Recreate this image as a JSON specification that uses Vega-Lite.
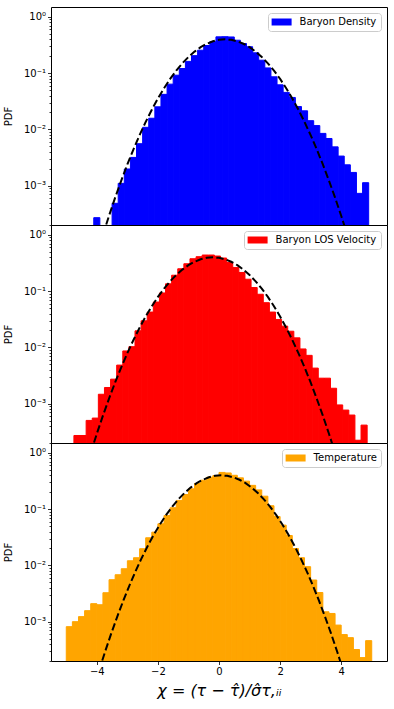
{
"$schema": "https://vega.github.io/schema/vega-lite/v6.json",
"padding": {"left": 2, "top": 6, "right": 5, "bottom": 8},
"spacing": 0,
"bounds": "flush",
"datasets": {
"bars": [
{"s":"Baryon Density","x0":-4.1,"x1":-3.9,"pdf":0.00027},
{"s":"Baryon Density","x0":-3.5,"x1":-3.3,"pdf":0.000486},
{"s":"Baryon Density","x0":-3.3,"x1":-3.1,"pdf":0.0011},
{"s":"Baryon Density","x0":-3.1,"x1":-2.9,"pdf":0.00198},
{"s":"Baryon Density","x0":-2.9,"x1":-2.7,"pdf":0.00318},
{"s":"Baryon Density","x0":-2.7,"x1":-2.5,"pdf":0.00557},
{"s":"Baryon Density","x0":-2.5,"x1":-2.3,"pdf":0.0109},
{"s":"Baryon Density","x0":-2.3,"x1":-2.1,"pdf":0.0158},
{"s":"Baryon Density","x0":-2.1,"x1":-1.9,"pdf":0.0252},
{"s":"Baryon Density","x0":-1.9,"x1":-1.7,"pdf":0.042},
{"s":"Baryon Density","x0":-1.7,"x1":-1.5,"pdf":0.0638},
{"s":"Baryon Density","x0":-1.5,"x1":-1.3,"pdf":0.092},
{"s":"Baryon Density","x0":-1.3,"x1":-1.1,"pdf":0.121},
{"s":"Baryon Density","x0":-1.1,"x1":-0.9,"pdf":0.162},
{"s":"Baryon Density","x0":-0.9,"x1":-0.7,"pdf":0.205},
{"s":"Baryon Density","x0":-0.7,"x1":-0.5,"pdf":0.256},
{"s":"Baryon Density","x0":-0.5,"x1":-0.3,"pdf":0.31},
{"s":"Baryon Density","x0":-0.3,"x1":-0.1,"pdf":0.362},
{"s":"Baryon Density","x0":-0.1,"x1":0.1,"pdf":0.442},
{"s":"Baryon Density","x0":0.1,"x1":0.3,"pdf":0.445},
{"s":"Baryon Density","x0":0.3,"x1":0.5,"pdf":0.44},
{"s":"Baryon Density","x0":0.5,"x1":0.7,"pdf":0.385},
{"s":"Baryon Density","x0":0.7,"x1":0.9,"pdf":0.336},
{"s":"Baryon Density","x0":0.9,"x1":1.1,"pdf":0.295},
{"s":"Baryon Density","x0":1.1,"x1":1.3,"pdf":0.23},
{"s":"Baryon Density","x0":1.3,"x1":1.5,"pdf":0.17},
{"s":"Baryon Density","x0":1.5,"x1":1.7,"pdf":0.124},
{"s":"Baryon Density","x0":1.7,"x1":1.9,"pdf":0.0861},
{"s":"Baryon Density","x0":1.9,"x1":2.1,"pdf":0.062},
{"s":"Baryon Density","x0":2.1,"x1":2.3,"pdf":0.0455},
{"s":"Baryon Density","x0":2.3,"x1":2.5,"pdf":0.037},
{"s":"Baryon Density","x0":2.5,"x1":2.7,"pdf":0.0255},
{"s":"Baryon Density","x0":2.7,"x1":2.9,"pdf":0.0214},
{"s":"Baryon Density","x0":2.9,"x1":3.1,"pdf":0.0143},
{"s":"Baryon Density","x0":3.1,"x1":3.3,"pdf":0.0117},
{"s":"Baryon Density","x0":3.3,"x1":3.5,"pdf":0.0085},
{"s":"Baryon Density","x0":3.5,"x1":3.7,"pdf":0.0069},
{"s":"Baryon Density","x0":3.7,"x1":3.9,"pdf":0.0049},
{"s":"Baryon Density","x0":3.9,"x1":4.1,"pdf":0.00336},
{"s":"Baryon Density","x0":4.1,"x1":4.3,"pdf":0.00235},
{"s":"Baryon Density","x0":4.3,"x1":4.5,"pdf":0.00172},
{"s":"Baryon Density","x0":4.5,"x1":4.7,"pdf":0.00073},
{"s":"Baryon Density","x0":4.7,"x1":4.9,"pdf":0.00113},
{"s":"Baryon LOS Velocity","x0":-4.75,"x1":-4.55,"pdf":0.000272},
{"s":"Baryon LOS Velocity","x0":-4.55,"x1":-4.35,"pdf":0.000272},
{"s":"Baryon LOS Velocity","x0":-4.35,"x1":-4.15,"pdf":0.000504},
{"s":"Baryon LOS Velocity","x0":-4.15,"x1":-3.95,"pdf":0.000555},
{"s":"Baryon LOS Velocity","x0":-3.95,"x1":-3.75,"pdf":0.00147},
{"s":"Baryon LOS Velocity","x0":-3.75,"x1":-3.55,"pdf":0.00194},
{"s":"Baryon LOS Velocity","x0":-3.55,"x1":-3.35,"pdf":0.00273},
{"s":"Baryon LOS Velocity","x0":-3.35,"x1":-3.15,"pdf":0.00485},
{"s":"Baryon LOS Velocity","x0":-3.15,"x1":-2.95,"pdf":0.00865},
{"s":"Baryon LOS Velocity","x0":-2.95,"x1":-2.75,"pdf":0.0103},
{"s":"Baryon LOS Velocity","x0":-2.75,"x1":-2.55,"pdf":0.0197},
{"s":"Baryon LOS Velocity","x0":-2.55,"x1":-2.35,"pdf":0.0297},
{"s":"Baryon LOS Velocity","x0":-2.35,"x1":-2.15,"pdf":0.0425},
{"s":"Baryon LOS Velocity","x0":-2.15,"x1":-1.95,"pdf":0.0641},
{"s":"Baryon LOS Velocity","x0":-1.95,"x1":-1.75,"pdf":0.0929},
{"s":"Baryon LOS Velocity","x0":-1.75,"x1":-1.55,"pdf":0.135},
{"s":"Baryon LOS Velocity","x0":-1.55,"x1":-1.35,"pdf":0.192},
{"s":"Baryon LOS Velocity","x0":-1.35,"x1":-1.15,"pdf":0.25},
{"s":"Baryon LOS Velocity","x0":-1.15,"x1":-0.95,"pdf":0.307},
{"s":"Baryon LOS Velocity","x0":-0.95,"x1":-0.75,"pdf":0.377},
{"s":"Baryon LOS Velocity","x0":-0.75,"x1":-0.55,"pdf":0.41},
{"s":"Baryon LOS Velocity","x0":-0.55,"x1":-0.35,"pdf":0.439},
{"s":"Baryon LOS Velocity","x0":-0.35,"x1":-0.15,"pdf":0.439},
{"s":"Baryon LOS Velocity","x0":-0.15,"x1":0.05,"pdf":0.421},
{"s":"Baryon LOS Velocity","x0":0.05,"x1":0.25,"pdf":0.388},
{"s":"Baryon LOS Velocity","x0":0.25,"x1":0.45,"pdf":0.324},
{"s":"Baryon LOS Velocity","x0":0.45,"x1":0.65,"pdf":0.264},
{"s":"Baryon LOS Velocity","x0":0.65,"x1":0.85,"pdf":0.215},
{"s":"Baryon LOS Velocity","x0":0.85,"x1":1.05,"pdf":0.163},
{"s":"Baryon LOS Velocity","x0":1.05,"x1":1.25,"pdf":0.116},
{"s":"Baryon LOS Velocity","x0":1.25,"x1":1.45,"pdf":0.0881},
{"s":"Baryon LOS Velocity","x0":1.45,"x1":1.65,"pdf":0.0624},
{"s":"Baryon LOS Velocity","x0":1.65,"x1":1.85,"pdf":0.0425},
{"s":"Baryon LOS Velocity","x0":1.85,"x1":2.05,"pdf":0.0314},
{"s":"Baryon LOS Velocity","x0":2.05,"x1":2.25,"pdf":0.0239},
{"s":"Baryon LOS Velocity","x0":2.25,"x1":2.45,"pdf":0.0194},
{"s":"Baryon LOS Velocity","x0":2.45,"x1":2.65,"pdf":0.0148},
{"s":"Baryon LOS Velocity","x0":2.65,"x1":2.85,"pdf":0.00939},
{"s":"Baryon LOS Velocity","x0":2.85,"x1":3.05,"pdf":0.00723},
{"s":"Baryon LOS Velocity","x0":3.05,"x1":3.25,"pdf":0.00429},
{"s":"Baryon LOS Velocity","x0":3.25,"x1":3.45,"pdf":0.00284},
{"s":"Baryon LOS Velocity","x0":3.45,"x1":3.65,"pdf":0.00284},
{"s":"Baryon LOS Velocity","x0":3.65,"x1":3.85,"pdf":0.00188},
{"s":"Baryon LOS Velocity","x0":3.85,"x1":4.05,"pdf":0.00095},
{"s":"Baryon LOS Velocity","x0":4.05,"x1":4.25,"pdf":0.00077},
{"s":"Baryon LOS Velocity","x0":4.25,"x1":4.45,"pdf":0.000628},
{"s":"Baryon LOS Velocity","x0":4.45,"x1":4.65,"pdf":0.000224},
{"s":"Baryon LOS Velocity","x0":4.65,"x1":4.85,"pdf":0.000416},
{"s":"Temperature","x0":-5.0,"x1":-4.8,"pdf":0.000815},
{"s":"Temperature","x0":-4.8,"x1":-4.6,"pdf":0.001},
{"s":"Temperature","x0":-4.6,"x1":-4.4,"pdf":0.00123},
{"s":"Temperature","x0":-4.4,"x1":-4.2,"pdf":0.00157},
{"s":"Temperature","x0":-4.2,"x1":-4.0,"pdf":0.00209},
{"s":"Temperature","x0":-4.0,"x1":-3.8,"pdf":0.002},
{"s":"Temperature","x0":-3.8,"x1":-3.6,"pdf":0.00327},
{"s":"Temperature","x0":-3.6,"x1":-3.4,"pdf":0.00557},
{"s":"Temperature","x0":-3.4,"x1":-3.2,"pdf":0.00683},
{"s":"Temperature","x0":-3.2,"x1":-3.0,"pdf":0.00873},
{"s":"Temperature","x0":-3.0,"x1":-2.8,"pdf":0.0121},
{"s":"Temperature","x0":-2.8,"x1":-2.6,"pdf":0.0137},
{"s":"Temperature","x0":-2.6,"x1":-2.4,"pdf":0.0198},
{"s":"Temperature","x0":-2.4,"x1":-2.2,"pdf":0.031},
{"s":"Temperature","x0":-2.2,"x1":-2.0,"pdf":0.039},
{"s":"Temperature","x0":-2.0,"x1":-1.8,"pdf":0.055},
{"s":"Temperature","x0":-1.8,"x1":-1.6,"pdf":0.077},
{"s":"Temperature","x0":-1.6,"x1":-1.4,"pdf":0.106},
{"s":"Temperature","x0":-1.4,"x1":-1.2,"pdf":0.143},
{"s":"Temperature","x0":-1.2,"x1":-1.0,"pdf":0.182},
{"s":"Temperature","x0":-1.0,"x1":-0.8,"pdf":0.23},
{"s":"Temperature","x0":-0.8,"x1":-0.6,"pdf":0.286},
{"s":"Temperature","x0":-0.6,"x1":-0.4,"pdf":0.327},
{"s":"Temperature","x0":-0.4,"x1":-0.2,"pdf":0.37},
{"s":"Temperature","x0":-0.2,"x1":0.0,"pdf":0.396},
{"s":"Temperature","x0":0.0,"x1":0.2,"pdf":0.45},
{"s":"Temperature","x0":0.2,"x1":0.4,"pdf":0.44},
{"s":"Temperature","x0":0.4,"x1":0.6,"pdf":0.4},
{"s":"Temperature","x0":0.6,"x1":0.8,"pdf":0.36},
{"s":"Temperature","x0":0.8,"x1":1.0,"pdf":0.315},
{"s":"Temperature","x0":1.0,"x1":1.2,"pdf":0.265},
{"s":"Temperature","x0":1.2,"x1":1.4,"pdf":0.22},
{"s":"Temperature","x0":1.4,"x1":1.6,"pdf":0.17},
{"s":"Temperature","x0":1.6,"x1":1.8,"pdf":0.115},
{"s":"Temperature","x0":1.8,"x1":2.0,"pdf":0.074},
{"s":"Temperature","x0":2.0,"x1":2.2,"pdf":0.052},
{"s":"Temperature","x0":2.2,"x1":2.4,"pdf":0.034},
{"s":"Temperature","x0":2.4,"x1":2.6,"pdf":0.02},
{"s":"Temperature","x0":2.6,"x1":2.8,"pdf":0.0137},
{"s":"Temperature","x0":2.8,"x1":3.0,"pdf":0.0095},
{"s":"Temperature","x0":3.0,"x1":3.2,"pdf":0.0055},
{"s":"Temperature","x0":3.2,"x1":3.4,"pdf":0.0033},
{"s":"Temperature","x0":3.4,"x1":3.6,"pdf":0.0015},
{"s":"Temperature","x0":3.6,"x1":3.8,"pdf":0.0014},
{"s":"Temperature","x0":3.8,"x1":4.0,"pdf":0.00087},
{"s":"Temperature","x0":4.0,"x1":4.2,"pdf":0.00059},
{"s":"Temperature","x0":4.2,"x1":4.4,"pdf":0.00052},
{"s":"Temperature","x0":4.4,"x1":4.6,"pdf":0.00032},
{"s":"Temperature","x0":4.6,"x1":4.8,"pdf":0.00023},
{"s":"Temperature","x0":4.8,"x1":5.0,"pdf":0.00046}
],
"curve": [
{"s":"Baryon Density","x":-4.0,"pdf":0.0000589},{"s":"Baryon Density","x":-3.8,"pdf":0.000134},{"s":"Baryon Density","x":-3.6,"pdf":0.000292},{"s":"Baryon Density","x":-3.4,"pdf":0.000612},{"s":"Baryon Density","x":-3.2,"pdf":0.001232},{"s":"Baryon Density","x":-3.0,"pdf":0.002384},{"s":"Baryon Density","x":-2.8,"pdf":0.004432},{"s":"Baryon Density","x":-2.6,"pdf":0.007915},{"s":"Baryon Density","x":-2.4,"pdf":0.01358},{"s":"Baryon Density","x":-2.2,"pdf":0.02239},{"s":"Baryon Density","x":-2.0,"pdf":0.03547},{"s":"Baryon Density","x":-1.8,"pdf":0.05399},{"s":"Baryon Density","x":-1.6,"pdf":0.07895},{"s":"Baryon Density","x":-1.4,"pdf":0.11092},{"s":"Baryon Density","x":-1.2,"pdf":0.14973},{"s":"Baryon Density","x":-1.0,"pdf":0.19419},{"s":"Baryon Density","x":-0.8,"pdf":0.24197},{"s":"Baryon Density","x":-0.6,"pdf":0.28969},{"s":"Baryon Density","x":-0.4,"pdf":0.33322},{"s":"Baryon Density","x":-0.2,"pdf":0.36827},{"s":"Baryon Density","x":0.0,"pdf":0.39104},{"s":"Baryon Density","x":0.2,"pdf":0.39894},{"s":"Baryon Density","x":0.4,"pdf":0.39104},{"s":"Baryon Density","x":0.6,"pdf":0.36827},{"s":"Baryon Density","x":0.8,"pdf":0.33322},{"s":"Baryon Density","x":1.0,"pdf":0.28969},{"s":"Baryon Density","x":1.2,"pdf":0.24197},{"s":"Baryon Density","x":1.4,"pdf":0.19419},{"s":"Baryon Density","x":1.6,"pdf":0.14973},{"s":"Baryon Density","x":1.8,"pdf":0.11092},{"s":"Baryon Density","x":2.0,"pdf":0.07895},{"s":"Baryon Density","x":2.2,"pdf":0.05399},{"s":"Baryon Density","x":2.4,"pdf":0.03547},{"s":"Baryon Density","x":2.6,"pdf":0.02239},{"s":"Baryon Density","x":2.8,"pdf":0.01358},{"s":"Baryon Density","x":3.0,"pdf":0.007915},{"s":"Baryon Density","x":3.2,"pdf":0.004432},{"s":"Baryon Density","x":3.4,"pdf":0.002384},{"s":"Baryon Density","x":3.6,"pdf":0.001232},{"s":"Baryon Density","x":3.8,"pdf":0.000612},{"s":"Baryon Density","x":4.0,"pdf":0.000292},{"s":"Baryon Density","x":4.2,"pdf":0.000134},{"s":"Baryon Density","x":4.4,"pdf":0.0000589},
{"s":"Baryon LOS Velocity","x":-4.4,"pdf":0.0000589},{"s":"Baryon LOS Velocity","x":-4.2,"pdf":0.000134},{"s":"Baryon LOS Velocity","x":-4.0,"pdf":0.000292},{"s":"Baryon LOS Velocity","x":-3.8,"pdf":0.000612},{"s":"Baryon LOS Velocity","x":-3.6,"pdf":0.001232},{"s":"Baryon LOS Velocity","x":-3.4,"pdf":0.002384},{"s":"Baryon LOS Velocity","x":-3.2,"pdf":0.004432},{"s":"Baryon LOS Velocity","x":-3.0,"pdf":0.007915},{"s":"Baryon LOS Velocity","x":-2.8,"pdf":0.01358},{"s":"Baryon LOS Velocity","x":-2.6,"pdf":0.02239},{"s":"Baryon LOS Velocity","x":-2.4,"pdf":0.03547},{"s":"Baryon LOS Velocity","x":-2.2,"pdf":0.05399},{"s":"Baryon LOS Velocity","x":-2.0,"pdf":0.07895},{"s":"Baryon LOS Velocity","x":-1.8,"pdf":0.11092},{"s":"Baryon LOS Velocity","x":-1.6,"pdf":0.14973},{"s":"Baryon LOS Velocity","x":-1.4,"pdf":0.19419},{"s":"Baryon LOS Velocity","x":-1.2,"pdf":0.24197},{"s":"Baryon LOS Velocity","x":-1.0,"pdf":0.28969},{"s":"Baryon LOS Velocity","x":-0.8,"pdf":0.33322},{"s":"Baryon LOS Velocity","x":-0.6,"pdf":0.36827},{"s":"Baryon LOS Velocity","x":-0.4,"pdf":0.39104},{"s":"Baryon LOS Velocity","x":-0.2,"pdf":0.39894},{"s":"Baryon LOS Velocity","x":0.0,"pdf":0.39104},{"s":"Baryon LOS Velocity","x":0.2,"pdf":0.36827},{"s":"Baryon LOS Velocity","x":0.4,"pdf":0.33322},{"s":"Baryon LOS Velocity","x":0.6,"pdf":0.28969},{"s":"Baryon LOS Velocity","x":0.8,"pdf":0.24197},{"s":"Baryon LOS Velocity","x":1.0,"pdf":0.19419},{"s":"Baryon LOS Velocity","x":1.2,"pdf":0.14973},{"s":"Baryon LOS Velocity","x":1.4,"pdf":0.11092},{"s":"Baryon LOS Velocity","x":1.6,"pdf":0.07895},{"s":"Baryon LOS Velocity","x":1.8,"pdf":0.05399},{"s":"Baryon LOS Velocity","x":2.0,"pdf":0.03547},{"s":"Baryon LOS Velocity","x":2.2,"pdf":0.02239},{"s":"Baryon LOS Velocity","x":2.4,"pdf":0.01358},{"s":"Baryon LOS Velocity","x":2.6,"pdf":0.007915},{"s":"Baryon LOS Velocity","x":2.8,"pdf":0.004432},{"s":"Baryon LOS Velocity","x":3.0,"pdf":0.002384},{"s":"Baryon LOS Velocity","x":3.2,"pdf":0.001232},{"s":"Baryon LOS Velocity","x":3.4,"pdf":0.000612},{"s":"Baryon LOS Velocity","x":3.6,"pdf":0.000292},{"s":"Baryon LOS Velocity","x":3.8,"pdf":0.000134},{"s":"Baryon LOS Velocity","x":4.0,"pdf":0.0000589},
{"s":"Temperature","x":-4.13,"pdf":0.0000589},{"s":"Temperature","x":-3.93,"pdf":0.000134},{"s":"Temperature","x":-3.73,"pdf":0.000292},{"s":"Temperature","x":-3.53,"pdf":0.000612},{"s":"Temperature","x":-3.33,"pdf":0.001232},{"s":"Temperature","x":-3.13,"pdf":0.002384},{"s":"Temperature","x":-2.93,"pdf":0.004432},{"s":"Temperature","x":-2.73,"pdf":0.007915},{"s":"Temperature","x":-2.53,"pdf":0.01358},{"s":"Temperature","x":-2.33,"pdf":0.02239},{"s":"Temperature","x":-2.13,"pdf":0.03547},{"s":"Temperature","x":-1.93,"pdf":0.05399},{"s":"Temperature","x":-1.73,"pdf":0.07895},{"s":"Temperature","x":-1.53,"pdf":0.11092},{"s":"Temperature","x":-1.33,"pdf":0.14973},{"s":"Temperature","x":-1.13,"pdf":0.19419},{"s":"Temperature","x":-0.93,"pdf":0.24197},{"s":"Temperature","x":-0.73,"pdf":0.28969},{"s":"Temperature","x":-0.53,"pdf":0.33322},{"s":"Temperature","x":-0.33,"pdf":0.36827},{"s":"Temperature","x":-0.13,"pdf":0.39104},{"s":"Temperature","x":0.07,"pdf":0.39894},{"s":"Temperature","x":0.27,"pdf":0.39104},{"s":"Temperature","x":0.47,"pdf":0.36827},{"s":"Temperature","x":0.67,"pdf":0.33322},{"s":"Temperature","x":0.87,"pdf":0.28969},{"s":"Temperature","x":1.07,"pdf":0.24197},{"s":"Temperature","x":1.27,"pdf":0.19419},{"s":"Temperature","x":1.47,"pdf":0.14973},{"s":"Temperature","x":1.67,"pdf":0.11092},{"s":"Temperature","x":1.87,"pdf":0.07895},{"s":"Temperature","x":2.07,"pdf":0.05399},{"s":"Temperature","x":2.27,"pdf":0.03547},{"s":"Temperature","x":2.47,"pdf":0.02239},{"s":"Temperature","x":2.67,"pdf":0.01358},{"s":"Temperature","x":2.87,"pdf":0.007915},{"s":"Temperature","x":3.07,"pdf":0.004432},{"s":"Temperature","x":3.27,"pdf":0.002384},{"s":"Temperature","x":3.47,"pdf":0.001232},{"s":"Temperature","x":3.67,"pdf":0.000612},{"s":"Temperature","x":3.87,"pdf":0.000292},{"s":"Temperature","x":4.07,"pdf":0.000134},{"s":"Temperature","x":4.27,"pdf":0.0000589}
]
},
"vconcat": [
{
"width": 336, "height": 218,
"layer": [
{"data": {"name": "bars"}, "transform": [{"filter": "datum.s == 'Baryon Density'"}],
 "mark": {"type": "rect", "clip": true, "stroke": "#0000ff", "strokeWidth": 1},
 "encoding": {
  "x": {"field": "x0", "type": "quantitative", "scale": {"domain": [-5.5, 5.5], "nice": false, "zero": false}, "axis": null},
  "x2": {"field": "x1"},
  "y": {"field": "pdf", "type": "quantitative", "scale": {"type": "log", "domain": [0.0002, 1.5], "nice": false}, "axis": {"values": [1, 0.1, 0.01, 0.001], "labelExpr": "datum.value > 0.5 ? '10⁰' : datum.value > 0.05 ? '10⁻¹' : datum.value > 0.005 ? '10⁻²' : '10⁻³'", "title": "PDF", "tickSize": 3.5, "labelPadding": 2, "titlePadding": 10, "orient": "left"}},
  "y2": {"datum": 0.0001},
  "color": {"field": "s", "type": "nominal", "scale": {"range": ["#0000ff"]}, "legend": {"title": null, "orient": "top-right", "offset": 6}}
 }},
{"data": {"name": "curve"}, "transform": [{"filter": "datum.s == 'Baryon Density'"}],
 "mark": {"type": "line", "clip": true, "color": "#000000", "strokeWidth": 2, "strokeDash": [7.4, 3.2]},
 "encoding": {
  "x": {"field": "x", "type": "quantitative"},
  "y": {"field": "pdf", "type": "quantitative", "axis": {"values": [0.0002,0.0003,0.0004,0.0005,0.0006,0.0007,0.0008,0.0009,0.002,0.003,0.004,0.005,0.006,0.007,0.008,0.009,0.02,0.03,0.04,0.05,0.06,0.07,0.08,0.09,0.2,0.3,0.4,0.5,0.6,0.7,0.8,0.9], "labels": false, "title": null, "tickSize": 2, "orient": "left"}}
 }}
],
"resolve": {"axis": {"y": "independent"}}
},
{
"width": 336, "height": 218,
"layer": [
{"data": {"name": "bars"}, "transform": [{"filter": "datum.s == 'Baryon LOS Velocity'"}],
 "mark": {"type": "rect", "clip": true, "stroke": "#ff0000", "strokeWidth": 1},
 "encoding": {
  "x": {"field": "x0", "type": "quantitative", "scale": {"domain": [-5.5, 5.5], "nice": false, "zero": false}, "axis": null},
  "x2": {"field": "x1"},
  "y": {"field": "pdf", "type": "quantitative", "scale": {"type": "log", "domain": [0.0002, 1.5], "nice": false}, "axis": {"values": [1, 0.1, 0.01, 0.001], "labelExpr": "datum.value > 0.5 ? '10⁰' : datum.value > 0.05 ? '10⁻¹' : datum.value > 0.005 ? '10⁻²' : '10⁻³'", "title": "PDF", "tickSize": 3.5, "labelPadding": 2, "titlePadding": 10, "orient": "left"}},
  "y2": {"datum": 0.0001},
  "color": {"field": "s", "type": "nominal", "scale": {"range": ["#ff0000"]}, "legend": {"title": null, "orient": "top-right", "offset": 6}}
 }},
{"data": {"name": "curve"}, "transform": [{"filter": "datum.s == 'Baryon LOS Velocity'"}],
 "mark": {"type": "line", "clip": true, "color": "#000000", "strokeWidth": 2, "strokeDash": [7.4, 3.2]},
 "encoding": {
  "x": {"field": "x", "type": "quantitative"},
  "y": {"field": "pdf", "type": "quantitative", "axis": {"values": [0.0002,0.0003,0.0004,0.0005,0.0006,0.0007,0.0008,0.0009,0.002,0.003,0.004,0.005,0.006,0.007,0.008,0.009,0.02,0.03,0.04,0.05,0.06,0.07,0.08,0.09,0.2,0.3,0.4,0.5,0.6,0.7,0.8,0.9], "labels": false, "title": null, "tickSize": 2, "orient": "left"}}
 }}
],
"resolve": {"axis": {"y": "independent"}}
},
{
"width": 336, "height": 218,
"layer": [
{"data": {"name": "bars"}, "transform": [{"filter": "datum.s == 'Temperature'"}],
 "mark": {"type": "rect", "clip": true, "stroke": "#ffa500", "strokeWidth": 1},
 "encoding": {
  "x": {"field": "x0", "type": "quantitative", "scale": {"domain": [-5.5, 5.5], "nice": false, "zero": false}, "axis": {"values": [-4, -2, 0, 2, 4], "labelExpr": "datum.value < 0 ? '−' + abs(datum.value) : '' + datum.value", "tickSize": 3.5, "labelPadding": 2, "title": "χ = (τ − τ̂)/σ̂τ,ᵢᵢ", "titleFontSize": 16, "titleFontStyle": "italic", "titlePadding": 6}},
  "x2": {"field": "x1"},
  "y": {"field": "pdf", "type": "quantitative", "scale": {"type": "log", "domain": [0.0002, 1.5], "nice": false}, "axis": {"values": [1, 0.1, 0.01, 0.001], "labelExpr": "datum.value > 0.5 ? '10⁰' : datum.value > 0.05 ? '10⁻¹' : datum.value > 0.005 ? '10⁻²' : '10⁻³'", "title": "PDF", "tickSize": 3.5, "labelPadding": 2, "titlePadding": 10, "orient": "left"}},
  "y2": {"datum": 0.0001},
  "color": {"field": "s", "type": "nominal", "scale": {"range": ["#ffa500"]}, "legend": {"title": null, "orient": "top-right", "offset": 6}}
 }},
{"data": {"name": "curve"}, "transform": [{"filter": "datum.s == 'Temperature'"}],
 "mark": {"type": "line", "clip": true, "color": "#000000", "strokeWidth": 2, "strokeDash": [7.4, 3.2]},
 "encoding": {
  "x": {"field": "x", "type": "quantitative"},
  "y": {"field": "pdf", "type": "quantitative", "axis": {"values": [0.0002,0.0003,0.0004,0.0005,0.0006,0.0007,0.0008,0.0009,0.002,0.003,0.004,0.005,0.006,0.007,0.008,0.009,0.02,0.03,0.04,0.05,0.06,0.07,0.08,0.09,0.2,0.3,0.4,0.5,0.6,0.7,0.8,0.9], "labels": false, "title": null, "tickSize": 2, "orient": "left"}}
 }}
],
"resolve": {"axis": {"y": "independent"}}
}
],
"resolve": {"scale": {"color": "independent"}, "legend": {"color": "independent"}},
"config": {
 "font": "DejaVu Sans",
 "view": {"stroke": "#000000", "strokeWidth": 1},
 "axis": {"domain": false, "grid": false, "tickColor": "#000000", "tickWidth": 0.8, "labelColor": "#000000", "titleColor": "#000000", "labelFont": "DejaVu Sans", "titleFont": "DejaVu Sans", "labelFontSize": 10, "titleFontSize": 10, "titleFontWeight": "normal"},
 "legend": {"padding": 4, "fillColor": "#ffffff", "strokeColor": "#cccccc", "cornerRadius": 3, "symbolType": "M-2,-0.7L2,-0.7L2,0.7L-2,0.7Z", "symbolSize": 100, "symbolStrokeWidth": 0, "symbolOpacity": 1, "symbolOffset": 4.6, "labelOffset": 13, "labelFontSize": 10, "labelColor": "#000000", "labelFont": "DejaVu Sans"}
}
}
